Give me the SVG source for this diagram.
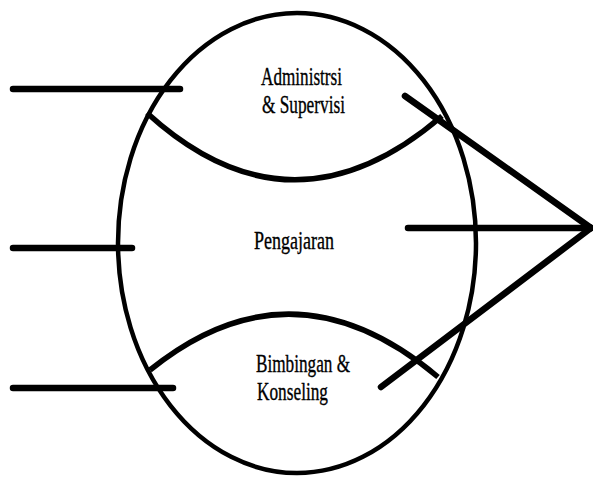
<svg xmlns="http://www.w3.org/2000/svg" width="593" height="479" viewBox="0 0 593 479">
  <style>
    .shape { fill: none; stroke: #000; }
    .outer { stroke-width: 4.5; }
    .arc { stroke-width: 5.5; }
    .conn { stroke: #000; stroke-width: 6.5; stroke-linecap: round; fill: none; }
    .lbl { font-family: "Liberation Serif", "Times New Roman", serif; font-size: 25px; fill: #000; stroke: #000; stroke-width: 0.35; }
  </style>
  <rect width="593" height="479" fill="#fff"/>
  <g id="pengajaran">
    <ellipse class="shape outer" cx="297" cy="243" rx="179" ry="230"/>
    <text class="lbl" x="254" y="249" textLength="80" lengthAdjust="spacingAndGlyphs">Pengajaran</text>
  </g>
  <g id="administrasi">
    <path class="shape arc" d="M147,113 Q292,245 442,116"/>
    <text class="lbl" x="261" y="85" textLength="81" lengthAdjust="spacingAndGlyphs">Administrsi</text>
    <text class="lbl" x="262" y="113" textLength="83" lengthAdjust="spacingAndGlyphs">&amp; Supervisi</text>
  </g>
  <g id="bimbingan">
    <path class="shape arc" d="M150,370 Q292,255 438,377"/>
    <text class="lbl" x="256" y="372" textLength="94" lengthAdjust="spacingAndGlyphs">Bimbingan &amp;</text>
    <text class="lbl" x="257" y="400" textLength="71" lengthAdjust="spacingAndGlyphs">Konseling</text>
  </g>
  <g id="connectors">
    <line class="conn" x1="13" y1="89" x2="180" y2="89"/>
    <line class="conn" x1="13" y1="248" x2="132" y2="248"/>
    <line class="conn" x1="13" y1="388" x2="173" y2="388"/>
    <line class="conn" x1="405" y1="96" x2="591" y2="228"/>
    <line class="conn" x1="408" y1="228" x2="591" y2="228"/>
    <line class="conn" x1="381" y1="387" x2="591" y2="228"/>
  </g>
</svg>
